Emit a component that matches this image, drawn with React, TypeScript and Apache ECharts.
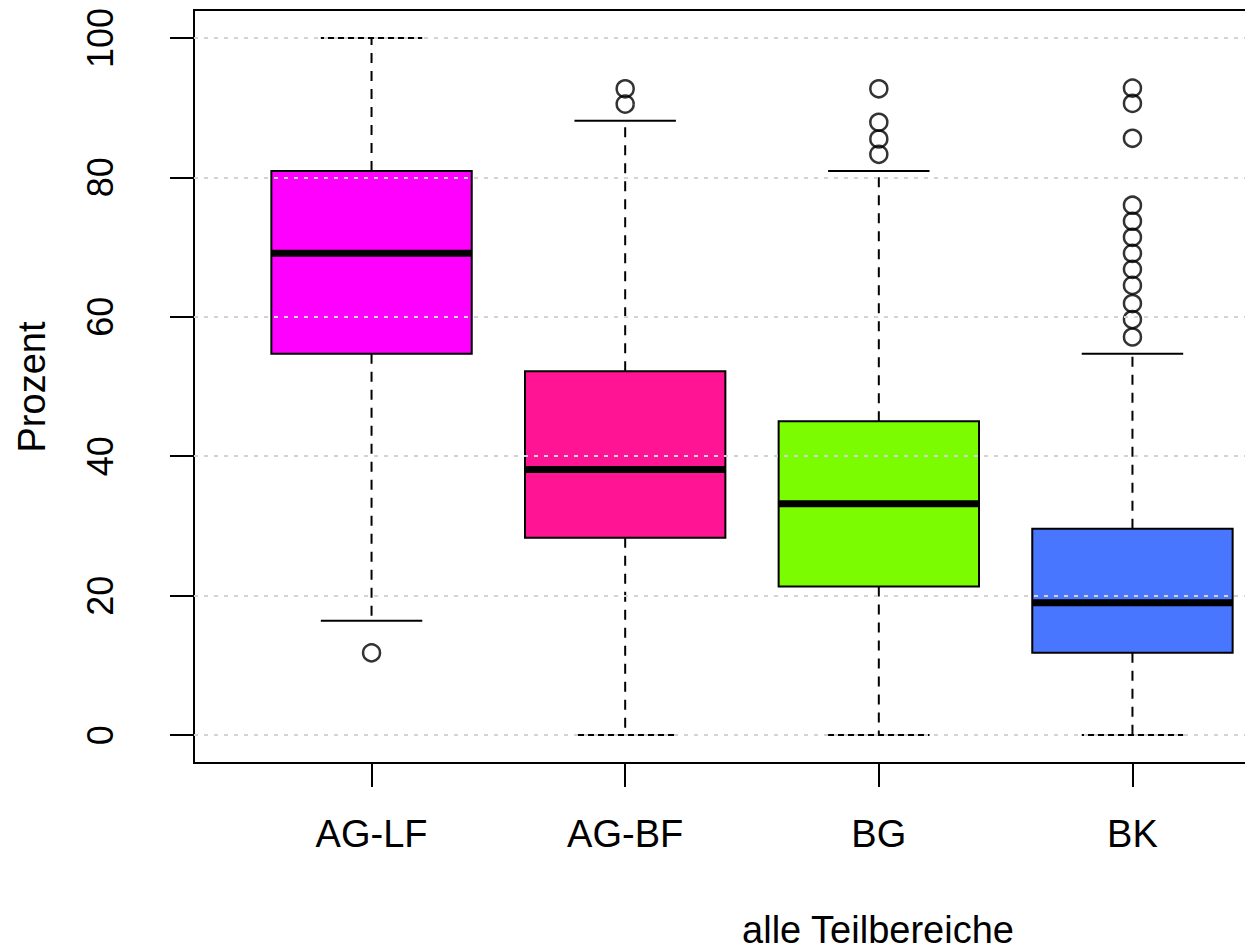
import React, { useEffect, useRef } from "react";
import * as echarts from "echarts";

const categories = ["AG-LF", "AG-BF", "BG", "BK"];
const colors = ["#FF00FF", "#FF1493", "#7CFC00", "#4876FF"];
const lowerWhisker = [16.4, 0, 0, 0];
const q1 = [54.7, 28.3, 21.3, 11.8];
const median = [69.1, 38.1, 33.2, 19.0];
const q3 = [80.9, 52.2, 45.0, 29.6];
const upperWhisker = [100, 88.1, 80.9, 54.7];
const outliersAgLf = [11.8];
const outliersAgBf = [90.5, 92.7];
const outliersBg = [83.3, 85.5, 87.9, 92.7];
const outliersBk = [57.1, 59.6, 61.9, 64.5, 66.8, 69.1, 71.4, 73.7, 76.0, 85.6, 90.6, 92.8];
const yTicks = [0, 20, 40, 60, 80, 100];
const xTicks = [1, 2, 3, 4];

const BOX_HALF = 0.395;
const CAP_HALF = 0.2;

export default function App() {
  const ref = useRef<HTMLDivElement>(null);
  useEffect(() => {
    if (!ref.current) return;
    const chart = echarts.init(ref.current, null, { renderer: "svg" });
    const boxData = categories.map((_, i) => [
      i + 1,
      lowerWhisker[i],
      q1[i],
      median[i],
      q3[i],
      upperWhisker[i],
    ]);
    const outlierData: number[][] = [];
    [outliersAgLf, outliersAgBf, outliersBg, outliersBk].forEach((arr, i) =>
      arr.forEach((v) => outlierData.push([i + 1, v]))
    );
    const font = "'Liberation Sans', Arial, sans-serif";
    chart.setOption({
      animation: false,
      grid: {
        left: 194,
        top: 10,
        width: 1116,
        height: 753,
        outerBoundsMode: "none",
        containLabel: false,
        show: true,
        borderColor: "#000",
        borderWidth: 2,
        backgroundColor: "transparent",
      },
      xAxis: {
        type: "value",
        min: 0.3,
        max: 4.7,
        splitLine: { show: false },
        axisLine: { show: false, onZero: false },
        axisTick: {
          show: true,
          inside: false,
          length: 24,
          lineStyle: { color: "#000", width: 2 },
          customValues: xTicks,
        },
        axisLabel: {
          customValues: xTicks,
          margin: 52,
          fontSize: 38,
          fontFamily: font,
          color: "#000",
          formatter: (v: number) => categories[Math.round(v) - 1] ?? "",
        },
      },
      yAxis: {
        type: "value",
        min: -4,
        max: 104,
        splitLine: { show: false },
        axisLine: { show: false, onZero: false },
        axisTick: {
          show: true,
          inside: false,
          length: 24,
          lineStyle: { color: "#000", width: 2 },
          customValues: yTicks,
        },
        axisLabel: {
          customValues: yTicks,
          rotate: 90,
          margin: 76,
          fontSize: 36,
          fontFamily: font,
          color: "#000",
        },
      },
      graphic: [
        {
          type: "text",
          x: 32,
          y: 387,
          rotation: Math.PI / 2,
          style: {
            text: "Prozent",
            fontSize: 38,
            lineHeight: 38,
            fontFamily: font,
            fill: "#000",
            align: "center",
            verticalAlign: "middle",
          },
        },
        {
          type: "text",
          x: 878,
          y: 930,
          style: {
            text: "alle Teilbereiche",
            fontSize: 38,
            lineHeight: 38,
            fontFamily: font,
            fill: "#000",
            align: "center",
            verticalAlign: "middle",
          },
        },
      ],
      series: [
        {
          type: "custom",
          z: 2,
          data: boxData,
          renderItem: (params: any, api: any) => {
            const x = api.value(0);
            const idx = params.dataIndex;
            const pLow = api.coord([x, api.value(1)]);
            const pQ1 = api.coord([x, api.value(2)]);
            const pMed = api.coord([x, api.value(3)]);
            const pQ3 = api.coord([x, api.value(4)]);
            const pHigh = api.coord([x, api.value(5)]);
            const left = api.coord([x - BOX_HALF, 0])[0];
            const right = api.coord([x + BOX_HALF, 0])[0];
            const capL = api.coord([x - CAP_HALF, 0])[0];
            const capR = api.coord([x + CAP_HALF, 0])[0];
            const cx = pMed[0];
            const dash = { stroke: "#000", lineWidth: 2, lineDash: [10, 8] };
            const solid = { stroke: "#000", lineWidth: 2 };
            return {
              type: "group",
              children: [
                { type: "line", shape: { x1: cx, y1: pQ3[1], x2: cx, y2: pHigh[1] }, style: dash },
                { type: "line", shape: { x1: cx, y1: pQ1[1], x2: cx, y2: pLow[1] }, style: dash },
                { type: "line", shape: { x1: capL, y1: pHigh[1], x2: capR, y2: pHigh[1] }, style: solid },
                { type: "line", shape: { x1: capL, y1: pLow[1], x2: capR, y2: pLow[1] }, style: solid },
                {
                  type: "rect",
                  shape: { x: left, y: pQ3[1], width: right - left, height: pQ1[1] - pQ3[1] },
                  style: { fill: colors[idx], stroke: "#000", lineWidth: 2 },
                },
                {
                  type: "line",
                  shape: { x1: left, y1: pMed[1], x2: right, y2: pMed[1] },
                  style: { stroke: "#000", lineWidth: 7 },
                },
              ],
            };
          },
        },
        {
          type: "scatter",
          z: 3,
          data: outlierData,
          symbol: "circle",
          symbolSize: 17,
          itemStyle: { color: "transparent", borderColor: "#000", borderWidth: 2.5 },
        },
        {
          type: "line",
          z: 4,
          data: [],
          markLine: {
            silent: true,
            symbol: ["none", "none"],
            label: { show: false },
            lineStyle: { color: "#d3d3d3", type: [4, 6], width: 2 },
            data: yTicks.map((v) => ({ yAxis: v })),
          },
        },
      ],
    });
    return () => chart.dispose();
  }, []);
  return (
    <div
      ref={ref}
      style={{ position: "fixed", left: 0, top: 0, width: 1245, height: 950, background: "#fff" }}
    />
  );
}
